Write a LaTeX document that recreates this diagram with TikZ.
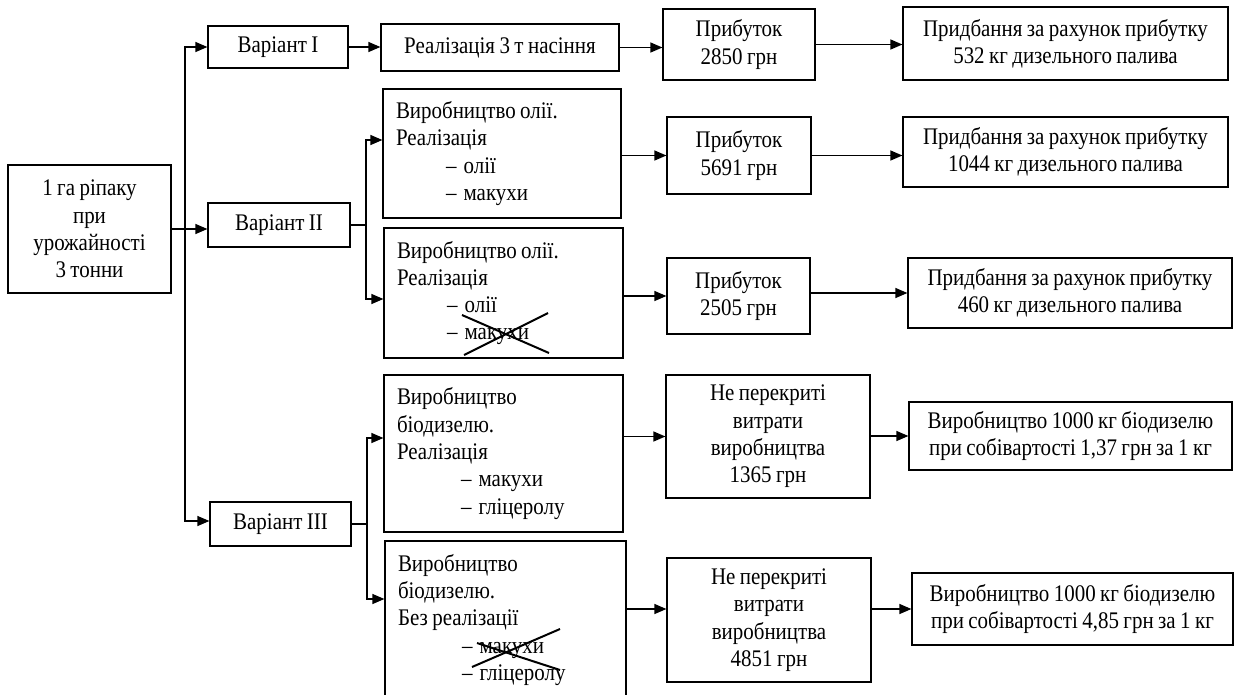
\documentclass[tikz,border=0pt]{standalone}
\usepackage{fontspec}
\setmainfont{Liberation Serif}[FakeStretch=0.88, WordSpace=0.85]
\usetikzlibrary{arrows.meta}
\newcommand\dfs{\fontsize{23.8}{27.3}\selectfont}
\newcommand\itm[2]{\hspace*{#1}–\hspace{0.3em}#2}
\tikzset{
  box/.style={draw, line width=1.2pt, inner sep=0pt, align=center, font=\dfs},
  lbox/.style={box, align=flush left, inner xsep=13pt},
  arr/.style={line width=1.2pt, -{Triangle[length=12pt,width=10pt]}},
  ln/.style={line width=1.2pt},
  crossln/.style={line width=2pt}
}
\begin{document}
\begin{tikzpicture}[x=1pt,y=-1pt]
\useasboundingbox (0,0) rectangle (1235,694);
\clip (0,0) rectangle (1235,694);
% column 1
\node[box, minimum width=163pt, minimum height=128pt] (root) at (89.5,229) {1 га ріпаку\\при\\урожайності\\3 тонни};
% column 2
\node[box, minimum width=140pt, minimum height=42pt] (var1) at (278,47) {Варіант I};
\node[box, minimum width=142pt, minimum height=44pt] (var2) at (279,225) {Варіант II};
\node[box, minimum width=141pt, minimum height=44pt] (var3) at (280.5,524) {Варіант III};
% column 3
\node[box, minimum width=238pt, minimum height=47pt] (real) at (500,47.5) {Реалізація 3 т насіння};
\node[lbox, text width=212pt, minimum height=129pt] (b2a) at (502,153.5) {Виробництво олії.\\Реалізація\\\itm{50pt}{олії}\\\itm{50pt}{макухи}};
\node[lbox, text width=213pt, minimum height=130pt] (b2b) at (503.5,293) {Виробництво олії.\\Реалізація\\\itm{50pt}{олії}\\\itm{50pt}{макухи}};
\node[lbox, text width=213pt, minimum height=157pt] (b3a) at (503.5,453.5) {Виробництво\\біодизелю.\\Реалізація\\\itm{64pt}{макухи}\\\itm{64pt}{гліцеролу}};
\node[lbox, text width=215pt, minimum height=158pt] (b3b) at (505.5,620) {Виробництво\\біодизелю.\\Без реалізації\\\itm{64pt}{макухи}\\\itm{64pt}{гліцеролу}};
% column 4
\node[box, minimum width=152pt, minimum height=71pt] (p1) at (739,44.5) {Прибуток\\2850 грн};
\node[box, minimum width=144pt, minimum height=77pt] (p2) at (739,155.5) {Прибуток\\5691 грн};
\node[box, minimum width=143pt, minimum height=76pt] (p3) at (738.5,296) {Прибуток\\2505 грн};
\node[box, minimum width=204pt, minimum height=123pt] (n1) at (768,436.5) {Не перекриті\\витрати\\виробництва\\1365 грн};
\node[box, minimum width=204pt, minimum height=124pt] (n2) at (769,620) {Не перекриті\\витрати\\виробництва\\4851 грн};
% column 5
\node[box, minimum width=325pt, minimum height=73pt] (q1) at (1065.5,43.5) {Придбання за рахунок прибутку\\532 кг дизельного палива};
\node[box, minimum width=325pt, minimum height=70pt] (q2) at (1065.5,152) {Придбання за рахунок прибутку\\1044 кг дизельного палива};
\node[box, minimum width=324pt, minimum height=70pt] (q3) at (1070,293) {Придбання за рахунок прибутку\\460 кг дизельного палива};
\node[box, minimum width=323pt, minimum height=68pt] (v1) at (1070.5,436) {Виробництво 1000 кг біодизелю\\при собівартості 1,37 грн за 1 кг};
\node[box, minimum width=321pt, minimum height=72pt] (v2) at (1072.5,609) {Виробництво 1000 кг біодизелю\\при собівартості 4,85 грн за 1 кг};
% trunk
\coordinate (j) at (185,229);
\draw[arr] (root.east) -- (root.east -| var2.west);
\draw[arr] (j) |- (var1.west);
\draw[arr] (j) |- ([yshift=3pt]var3.west);
% variant I chain
\draw[arr] (var1.east) -- (var1.east -| real.west);
\draw[arr] (real.east) -- (real.east -| p1.west);
\draw[arr] (p1.east) -- (p1.east -| q1.west);
% variant II branch
\coordinate (j2) at (366,225);
\draw[ln] (var2.east) -- (j2);
\draw[arr] (j2) |- (b2a.west |- 0,140);
\draw[arr] (j2) |- (b2b.west |- 0,299);
\draw[arr] (b2a.east |- p2.west) -- (p2.west);
\draw[arr] (p2.east) -- (p2.east -| q2.west);
\draw[arr] (b2b.east |- p3.west) -- (p3.west);
\draw[arr] (p3.east |- q3.west) -- (q3.west);
% variant III branch
\coordinate (j3) at (367,524);
\draw[ln] (var3.east) -- (j3);
\draw[arr] (j3) |- (b3a.west |- 0,438);
\draw[arr] (j3) |- (b3b.west |- 0,599);
\draw[arr] (b3a.east |- n1.west) -- (n1.west);
\draw[arr] (n1.east |- v1.west) -- (v1.west);
\draw[arr] (b3b.east |- v2.west) -- (n2.west |- v2.west);
\draw[arr] (n2.east |- v2.west) -- (v2.west);
% crossings-out
\draw[crossln] (462,315) -- (549,353);
\draw[crossln] (464,355) -- (548,313);
\draw[crossln] (472,667) -- (560,629);
\draw[crossln] (477,643) -- (560,670);
\end{tikzpicture}
\end{document}
